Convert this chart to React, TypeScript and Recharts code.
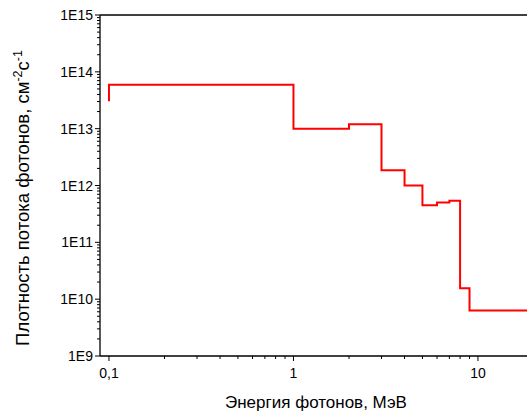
import React from "react";
import { LineChart, Line, XAxis, YAxis, ReferenceLine } from "recharts";

// photon flux density spectrum (step histogram)
const energies = [0.1, 0.1, 1, 2, 3, 4, 5, 6, 7, 8, 9, 20];
const fluxes = [3.05e13, 5.9e13, 1.0e13, 1.2e13, 1.85e12, 1.0e12, 4.5e11, 5.0e11, 5.4e11, 1.55e10, 6.3e9, 6.3e9];

const xMajor = [0.1, 1, 10];
const xMinor = [0.2, 0.3, 0.4, 0.5, 0.6, 0.7, 0.8, 0.9, 2, 3, 4, 5, 6, 7, 8, 9];
const xLabels: Record<number, string> = { 0.1: "0,1", 1: "1", 10: "10" };

const yMajor = [1e9, 1e10, 1e11, 1e12, 1e13, 1e14, 1e15];
const yMinor: number[] = [];
for (let e = 9; e < 15; e++) {
  for (let m = 2; m <= 9; m++) yMinor.push(m * Math.pow(10, e));
}

const data = energies.map((e, i) => ({ e, f: fluxes[i] }));

const FONT = "'Liberation Sans', Arial, sans-serif";

const XTick = (props: any) => {
  const { x, y, payload } = props;
  const major = xMajor.includes(payload.value);
  return (
    <g>
      <line x1={x} x2={x} y1={y} y2={y + (major ? 5 : 3)} stroke="#000" strokeWidth={1} />
      {major && (
        <text x={x} y={y + 22} textAnchor="middle" fontSize={14} fill="#000" fontFamily={FONT}>
          {xLabels[payload.value]}
        </text>
      )}
    </g>
  );
};

const YTick = (props: any) => {
  const { x, y, payload } = props;
  const v = payload.value;
  const major = yMajor.includes(v);
  return (
    <g>
      <line x1={x} x2={x - (major ? 5 : 3)} y1={y} y2={y} stroke="#000" strokeWidth={1} />
      {major && (
        <text x={x - 7} y={y + 5} textAnchor="end" fontSize={14} fill="#000" fontFamily={FONT}>
          {"1E" + Math.round(Math.log10(v))}
        </text>
      )}
    </g>
  );
};

const YTitle = () => (
  <text
    transform="translate(29,198) rotate(-90)"
    textAnchor="middle"
    fontSize={18.5}
    fill="#000"
    fontFamily={FONT}
  >
    Плотность потока фотонов, см
    <tspan fontSize={12.5} dy={-7}>-2</tspan>
    <tspan dy={7}>с</tspan>
    <tspan fontSize={12.5} dy={-7}>-1</tspan>
  </text>
);

const XTitle = () => (
  <text x={316} y={408} textAnchor="middle" fontSize={17} fill="#000" fontFamily={FONT}>
    Энергия фотонов, МэВ
  </text>
);

export default function App() {
  return (
    <div style={{ position: "absolute", left: 0, top: 0, background: "#fff" }}>
      <LineChart width={527} height={412} data={data} margin={{ top: 15, right: 0, bottom: 0, left: 0 }}>
        <XAxis
          dataKey="e"
          type="number"
          scale="log"
          domain={[0.0894, 18.44]}
          allowDataOverflow
          ticks={[...xMajor, ...xMinor]}
          interval={0}
          tick={<XTick />}
          tickLine={false}
          tickSize={0}
          tickMargin={0}
          height={56}
          axisLine={{ stroke: "#000", strokeWidth: 1.3 }}
          label={<XTitle />}
        />
        <YAxis
          type="number"
          scale="log"
          domain={[1e9, 1e15]}
          allowDataOverflow
          ticks={[...yMajor, ...yMinor]}
          interval={0}
          tick={<YTick />}
          tickLine={false}
          tickSize={0}
          tickMargin={0}
          width={100}
          axisLine={{ stroke: "#000", strokeWidth: 1.3 }}
          label={<YTitle />}
        />
        <ReferenceLine y={1e15} stroke="#000" strokeWidth={1.3} />
        <Line
          type="stepAfter"
          dataKey="f"
          stroke="#ff0000"
          strokeWidth={2}
          dot={false}
          isAnimationActive={false}
        />
      </LineChart>
    </div>
  );
}
